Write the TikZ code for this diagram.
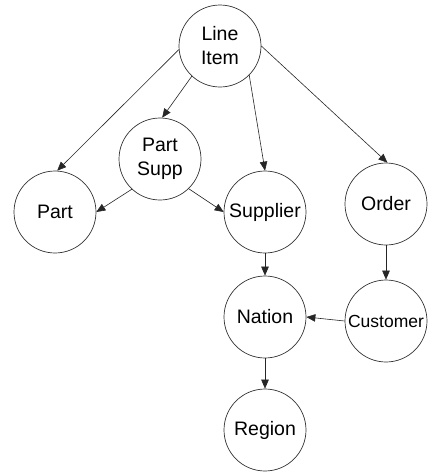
\documentclass[tikz,border=0pt]{standalone}
\usepackage{fontspec}
\setmainfont{Liberation Sans}
\usetikzlibrary{arrows.meta}
\begin{document}
\begin{tikzpicture}[x=1pt,y=-1pt,
  ent/.style={circle,draw=black!80,line width=0.7pt,minimum size=82pt,inner sep=0pt,align=center,
    font=\fontsize{19.5}{24}\selectfont},
  rel/.style={-{Triangle[length=9pt,width=7.5pt]},line width=0.6pt,draw=black!85}]
\useasboundingbox (0,0) rectangle (428,472);
\node[ent] (li) at (220,46) {Line\\Item};
\node[ent] (ps) at (160,159) {Part\\Supp};
\node[ent] (pa) at (55,212) {Part};
\node[ent] (su) at (265,212) {Supplier};
\node[ent] (or) at (386,204) {Order};
\node[ent] (na) at (265,317) {Nation};
\node[ent] (cu) at (386,321) {\fontsize{17.5}{20}\selectfont Customer};
\node[ent] (re) at (265,430) {Region};
\draw[rel] (li.185) -- (pa.87);
\draw[rel] (li.227) -- (ps.87);
\draw[rel] (li.315) -- (su.90);
\draw[rel] (li.0) -- (or.88);
\draw[rel] (ps.227) -- (pa.0);
\draw[rel] (ps.314) -- (su.180);
\draw[rel] (su.270) -- (na.90);
\draw[rel] (or.270) -- (cu.90);
\draw[rel] (cu.180) -- (na.0);
\draw[rel] (na.270) -- (re.90);
\end{tikzpicture}
\end{document}
